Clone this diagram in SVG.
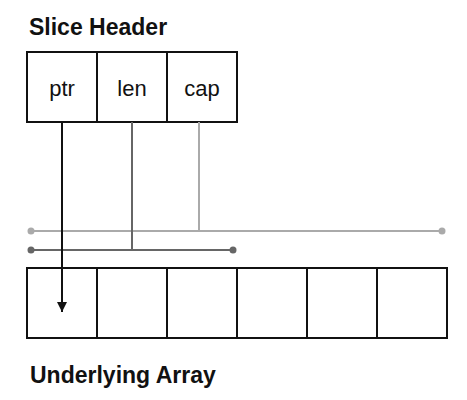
<svg xmlns="http://www.w3.org/2000/svg" width="467" height="400" viewBox="0 0 467 400">
<style>
.title{font-family:"Liberation Sans",Arial,sans-serif;font-weight:bold;font-size:23px;fill:#111}
.lbl{font-family:"Liberation Sans",Arial,sans-serif;font-size:22px;fill:#111;text-anchor:middle}
.cell{fill:#fff;stroke:#111;stroke-width:2}
</style>
<defs>
<marker id="arr" markerWidth="10" markerHeight="10" refX="10" refY="5" orient="auto" markerUnits="userSpaceOnUse" viewBox="0 0 10 10">
<path d="M0,0 L10,5 L0,10 Z" fill="#111"/>
</marker>
</defs>
<rect width="467" height="400" fill="#fff"/>
<text class="title" x="29" y="35">Slice Header</text>
<g id="header">
<rect class="cell" x="27" y="52" width="70" height="70"/>
<rect class="cell" x="97" y="52" width="70" height="70"/>
<rect class="cell" x="167" y="52" width="70" height="70"/>
<text class="lbl" x="62" y="96">ptr</text>
<text class="lbl" x="132" y="96">len</text>
<text class="lbl" x="202" y="96">cap</text>
</g>
<g id="array">
<rect class="cell" x="27" y="268" width="70" height="70"/>
<rect class="cell" x="97" y="268" width="70" height="70"/>
<rect class="cell" x="167" y="268" width="70" height="70"/>
<rect class="cell" x="237" y="268" width="70" height="70"/>
<rect class="cell" x="307" y="268" width="70" height="70"/>
<rect class="cell" x="377" y="268" width="70" height="70"/>
</g>
<g id="connectors">
<line x1="31" y1="231" x2="442" y2="231" stroke="#aaa" stroke-width="2"/>
<circle cx="31" cy="231" r="3.5" fill="#aaa"/>
<circle cx="442" cy="231" r="3.5" fill="#aaa"/>
<line x1="199" y1="122" x2="199" y2="231" stroke="#aaa" stroke-width="2"/>
<line x1="31" y1="250" x2="233" y2="250" stroke="#666" stroke-width="2"/>
<circle cx="31" cy="250" r="3.5" fill="#666"/>
<circle cx="233" cy="250" r="3.5" fill="#666"/>
<line x1="132" y1="122" x2="132" y2="250" stroke="#666" stroke-width="2"/>
<line x1="62" y1="122" x2="62" y2="312" stroke="#111" stroke-width="2" marker-end="url(#arr)"/>
</g>
<text class="title" x="30" y="383">Underlying Array</text>
</svg>
